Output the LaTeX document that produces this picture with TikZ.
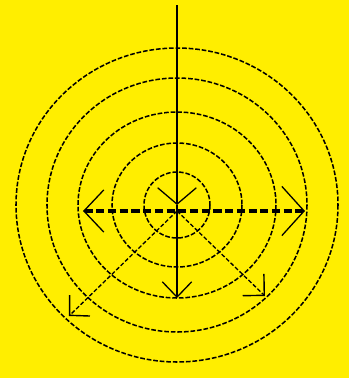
\documentclass[tikz,border=0pt]{standalone}
\usetikzlibrary{arrows.meta}
\definecolor{bgyellow}{RGB}{255,238,0}
\tikzset{
  ring/.style={line width=1.3pt, dash pattern=on 4pt off 1.6pt},
  ray/.style={line width=1.1pt, dash pattern=on 3.5pt off 1.8pt},
  axis/.style={line width=2.8pt, dash pattern=on 7pt off 3pt}
}
\begin{document}
\begin{tikzpicture}[x=0.03cm,y=-0.03cm]
% background
\fill[bgyellow] (0,0) rectangle (349,378);
% points
\coordinate (C) at (177,205);
\coordinate (H) at (177,211);
\coordinate (top) at (177,5);
\coordinate (bot) at (177,298);
\coordinate (L) at (83,211);
\coordinate (R) at (305,211);
\coordinate (LL) at (69,316);
\coordinate (LR) at (265,296);
% rings
\foreach \rx/\ry in {33/33,65/62,99/93,130/127,161/157}
  \draw[ring] (C) ellipse [x radius=\rx, y radius=\ry];
% vertical line
\draw[line width=1.5pt,-{Straight Barb[length=14pt,width=33pt,line width=1.1pt]}] (top) -- (C);
\draw[line width=1.5pt,-{Straight Barb[length=13pt,width=25pt,line width=1.1pt]}] (C) -- (bot);
% horizontal line
\draw[axis,{Straight Barb[length=17pt,width=36pt,line width=1.1pt]}-{Straight Barb[length=19pt,width=42pt,line width=1.1pt]}] (L) -- (R);
% diagonals
\draw[ray,-{Straight Barb[length=12pt,width=25pt,line width=1.2pt]}] (H) -- (LL);
\draw[ray,-{Straight Barb[length=13pt,width=26pt,line width=1.2pt]}] (H) -- (LR);
\end{tikzpicture}
\end{document}
